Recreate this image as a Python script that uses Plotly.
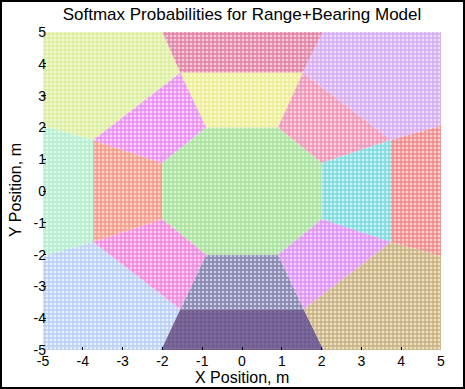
import plotly.graph_objects as go

# Region polygons (vertices), x and y in metres
region_names = [
    "out_topleft", "out_top", "out_topright", "out_left", "out_right",
    "out_botleft", "out_bot", "out_botright",
    "mid_top", "mid_topright", "mid_right", "mid_botright",
    "mid_bot", "mid_botleft", "mid_left", "mid_topleft", "center",
]
region_x = [
    [-3.74, -1.55, -2.0, -5, -5],
    [-1.55, 1.53, 2.03, -2.0],
    [1.53, 3.74, 5, 5, 2.03],
    [-3.74, -3.74, -5, -5],
    [3.74, 3.74, 5, 5],
    [-1.55, -3.74, -5, -5, -2.03],
    [1.55, -1.55, -2.03, 2.05],
    [3.74, 1.55, 2.05, 5, 5],
    [-0.9, 0.9, 1.53, -1.55],
    [0.9, 2, 3.74, 1.53],
    [2, 2, 3.74, 3.74],
    [2, 0.9, 1.55, 3.74],
    [0.9, -0.9, -1.55, 1.55],
    [-0.9, -2, -3.74, -1.55],
    [-2, -2, -3.74, -3.74],
    [-2, -0.9, -1.55, -3.74],
    [-0.9, 0.9, 2, 2, 0.9, -0.9, -2, -2],
]
region_y = [
    [1.6, 3.72, 5, 5, 2.05],
    [3.72, 3.72, 5, 5],
    [3.72, 1.6, 2.05, 5, 5],
    [-1.6, 1.6, 2.05, -2.05],
    [1.6, -1.6, -2.05, 2.05],
    [-3.72, -1.6, -2.05, -5, -5],
    [-3.72, -3.72, -5, -5],
    [-1.6, -3.72, -5, -5, -2.05],
    [2, 2, 3.72, 3.72],
    [2, 0.88, 1.6, 3.72],
    [0.88, -0.88, -1.6, 1.6],
    [-0.88, -2, -3.72, -1.6],
    [-2, -2, -3.72, -3.72],
    [-2, -0.88, -1.6, -3.72],
    [-0.88, 0.88, 1.6, -1.6],
    [0.88, 2, 3.72, 1.6],
    [2, 2, 0.88, -0.88, -2, -2, -0.88, 0.88],
]

tick_vals = [-5, -4, -3, -2, -1, 0, 1, 2, 3, 4, 5]
tick_text = ["-5", "-4", "-3", "-2", "-1", "0", "1", "2", "3", "4", "5"]

# Styles (mesh line colour, cell colour) per region
line_colors = [
    "#c8e470", "#cc3a6e", "#b874ea", "#86e4ac", "#e63e3e",
    "#84acec", "#4a50a0", "#a4803a",
    "#dede58", "#e2568c", "#22c0cc", "#c850ec",
    "#383874", "#e640c4", "#e66248", "#d844ec", "#70d060",
]
cell_colors = [
    "#f0f8d2", "#f4ccdc", "#f0e0fb", "#e0f9ec", "#fad2d2",
    "#e8f0fb", "#8a6c90", "#ece0c6",
    "#fafad2", "#fad2e0", "#d2f2f4", "#f4d2fb",
    "#cccce4", "#fad0f4", "#fad4cc", "#fad6fa", "#dcf4d6",
]

fig = go.Figure()
for name, xs, ys, lc, cc in zip(region_names, region_x, region_y, line_colors, cell_colors):
    fig.add_trace(go.Scatter(
        x=xs + [xs[0]], y=ys + [ys[0]], name=name,
        mode="lines", fill="toself", line=dict(width=0, color=cc),
        fillcolor=cc,
        fillpattern=dict(shape="+", fgcolor=lc, bgcolor=cc, size=4, solidity=0.6),
        hoverinfo="skip", showlegend=False,
    ))

W, H = 465, 389
L, R, T, B = 43, 24, 32, 39
pw, ph = W - L - R, H - T - B

fig.update_layout(
    width=W, height=H,
    margin=dict(l=L, r=R, t=T, b=B, autoexpand=False),
    paper_bgcolor="white", plot_bgcolor="white",
    font=dict(family="Liberation Sans, Arial, sans-serif", size=14, color="black"),
    title=dict(text="Softmax Probabilities for Range+Bearing Model",
               x=0.5, xref="paper", y=1 - 14 / H, yref="container",
               yanchor="middle", xanchor="center",
               font=dict(size=17, color="black")),
    xaxis=dict(range=[-5, 5], tickvals=tick_vals, ticktext=tick_text,
               showgrid=False, zeroline=False, ticks="inside", ticklen=3,
               tickcolor="black", showline=False, automargin=False,
               ticklabelstandoff=1),
    yaxis=dict(range=[-5, 5], tickvals=tick_vals, ticktext=tick_text,
               showgrid=False, zeroline=False, ticks="inside", ticklen=3,
               tickcolor="black", showline=False, automargin=False,
               ticklabelstandoff=-4),
    annotations=[
        dict(text="X Position, m", xref="paper", yref="paper",
             x=0.5, y=(350 - 377) / ph,
             xanchor="center", yanchor="middle", showarrow=False,
             font=dict(size=16)),
        dict(text="Y Position, m", xref="paper", yref="paper",
             x=(15 - L) / pw, y=(350 - 190) / ph, textangle=-90,
             xanchor="center", yanchor="middle", showarrow=False,
             font=dict(size=16)),
    ],
    shapes=[dict(type="rect", xref="paper", yref="paper", layer="above",
                 x0=-(L - 1) / pw, x1=1 + (R - 1) / pw,
                 y0=-(B - 1) / ph, y1=1 + (T - 1) / ph,
                 line=dict(color="black", width=2))],
)

fig.write_html("out.html", config={"displayModeBar": False},
               post_script="document.body.style.margin='0';document.body.style.overflow='hidden';")
